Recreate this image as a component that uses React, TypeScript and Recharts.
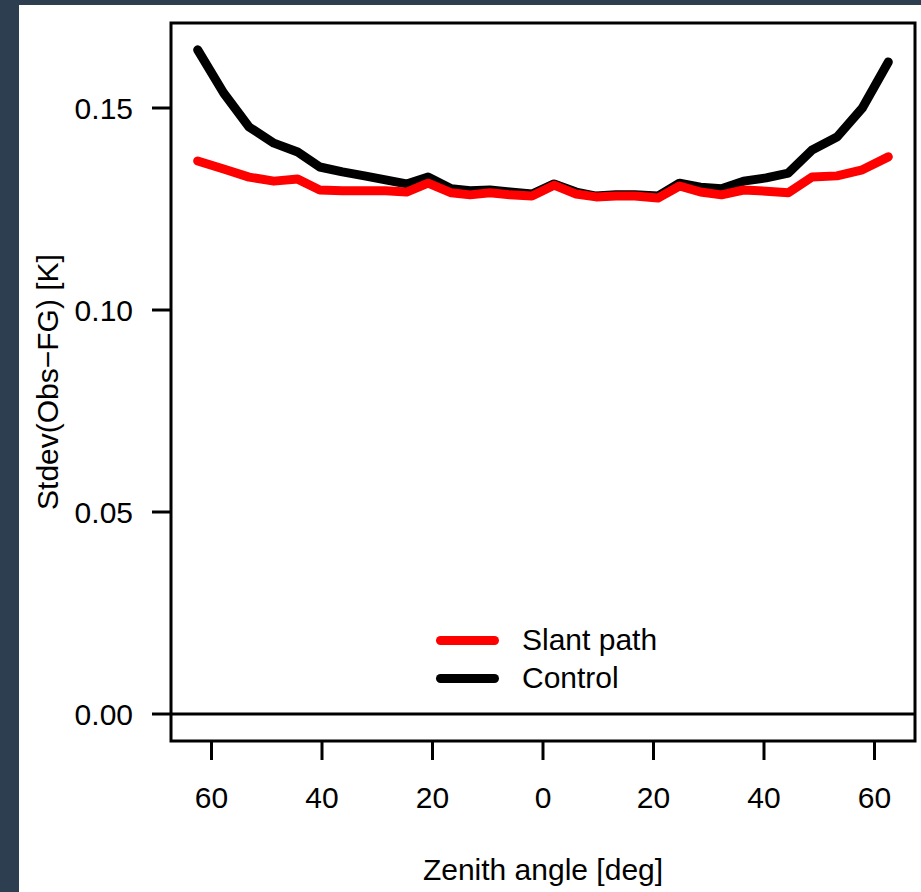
import {
  LineChart, Line, XAxis, YAxis, ReferenceLine, ReferenceArea, Legend, Label,
} from 'recharts'

// zenith angle of each bin, negative = one side of the scan
const angles = [
  -62.5, -57.8, -53.2, -48.7, -44.4, -40.4, -36.3, -32.3, -28.5, -24.7, -20.8, -16.6, -13.2, -9.6, -6.0, -2.0,
  2.0, 6.0, 9.6, 13.2, 16.6, 20.8, 24.7, 28.5, 32.3, 36.3, 40.4, 44.4, 48.7, 53.2, 57.8, 62.5,
]

const slantPath = [
  0.1369, 0.1349, 0.1329, 0.1319, 0.1324, 0.1297, 0.1295, 0.1295, 0.1295, 0.1292, 0.1314, 0.1290, 0.1285, 0.1290, 0.1285, 0.1282,
  0.1309, 0.1287, 0.1280, 0.1282, 0.1282, 0.1277, 0.1307, 0.1292, 0.1285, 0.1297, 0.1294, 0.1290, 0.1329, 0.1332, 0.1347, 0.1379,
]

const control = [
  0.1644, 0.1537, 0.1453, 0.1413, 0.1391, 0.1354, 0.1342, 0.1332, 0.1322, 0.1312, 0.1329, 0.1300, 0.1295, 0.1297, 0.1292, 0.1287,
  0.1312, 0.1292, 0.1282, 0.1285, 0.1285, 0.1282, 0.1314, 0.1304, 0.1300, 0.1319, 0.1327, 0.1339, 0.1396, 0.1428, 0.1500, 0.1614,
]

const xTicks = [-60, -40, -20, 0, 20, 40, 60]
const yTicks = [0, 0.05, 0.1, 0.15]

const legendItems = [
  { label: 'Slant path', color: '#ff0000' },
  { label: 'Control', color: '#000000' },
]

const data = angles.map((a, i) => ({ angle: a, slant: slantPath[i], control: control[i] }))

const xDomain: [number, number] = [-67.33, 67.33]
const yDomain: [number, number] = [-0.00668, 0.17104]

const font = '"Liberation Sans", Arial, Helvetica, sans-serif'
const tickStyle = { fill: '#000', fontSize: 30, fontFamily: font }

function renderLegend() {
  return (
    <div style={{ fontFamily: font, fontSize: 30, color: '#000' }}>
      {legendItems.map((it) => (
        <div key={it.label} style={{ display: 'flex', alignItems: 'center', height: 38 }}>
          <div style={{ width: 63, height: 9, borderRadius: 4.5, background: it.color, marginRight: 23 }} />
          <span style={{ lineHeight: '38px', whiteSpace: 'nowrap' }}>{it.label}</span>
        </div>
      ))}
    </div>
  )
}

function YTitle(props: any) {
  const vb = props.viewBox || { x: 0, y: 0, height: 0 }
  const x = vb.x + 39
  const y = vb.y + vb.height / 2
  return (
    <text x={x} y={y} transform={`rotate(-90, ${x}, ${y})`} textAnchor="middle"
      fill="#000" fontSize={30} fontFamily={font}>
      Stdev(Obs−FG) [K]
    </text>
  )
}

export default function App() {
  return (
    <div style={{ position: 'absolute', left: 0, top: 0, width: 921, height: 892, background: '#2d3e50' }}>
      <div style={{ position: 'absolute', left: 19, top: 5, width: 902, height: 887, background: '#fff' }}>
        <LineChart width={902} height={887} data={data} margin={{ top: 18, right: 6, bottom: 0, left: 0 }}>
          <XAxis
            dataKey="angle" type="number" domain={xDomain} ticks={xTicks} allowDataOverflow
            tickFormatter={(v: any) => String(Math.abs(Number(v)))}
            axisLine={false} tickSize={19} tickMargin={27} height={151}
            tickLine={{ stroke: '#000', strokeWidth: 3 }} tick={tickStyle}
          >
            <Label value="Zenith angle [deg]" position="insideBottom" offset={12}
              style={{ fill: '#000', fontSize: 30, fontFamily: font }} />
          </XAxis>
          <YAxis
            type="number" domain={yDomain} ticks={yTicks} allowDataOverflow
            tickFormatter={(v: any) => Number(v).toFixed(2)}
            axisLine={false} tickSize={19} tickMargin={19} width={152}
            tickLine={{ stroke: '#000', strokeWidth: 3 }} tick={tickStyle}
            label={<YTitle />}
          />
          <ReferenceLine y={0} stroke="#000" strokeWidth={3} />
          <ReferenceArea x1={xDomain[0]} x2={xDomain[1]} y1={yDomain[0]} y2={yDomain[1]}
            fill="none" fillOpacity={0} stroke="#000" strokeWidth={3} strokeOpacity={1} />
          <Line type="linear" dataKey="control" stroke="#000000" strokeWidth={9} dot={false}
            strokeLinecap="round" strokeLinejoin="round" isAnimationActive={false} />
          <Line type="linear" dataKey="slant" stroke="#ff0000" strokeWidth={9} dot={false}
            strokeLinecap="round" strokeLinejoin="round" isAnimationActive={false} />
          <Legend layout="vertical" verticalAlign="middle" align="center" content={renderLegend}
            wrapperStyle={{ left: 417, top: 616, width: 300, height: 76 }} />
        </LineChart>
      </div>
    </div>
  )
}
